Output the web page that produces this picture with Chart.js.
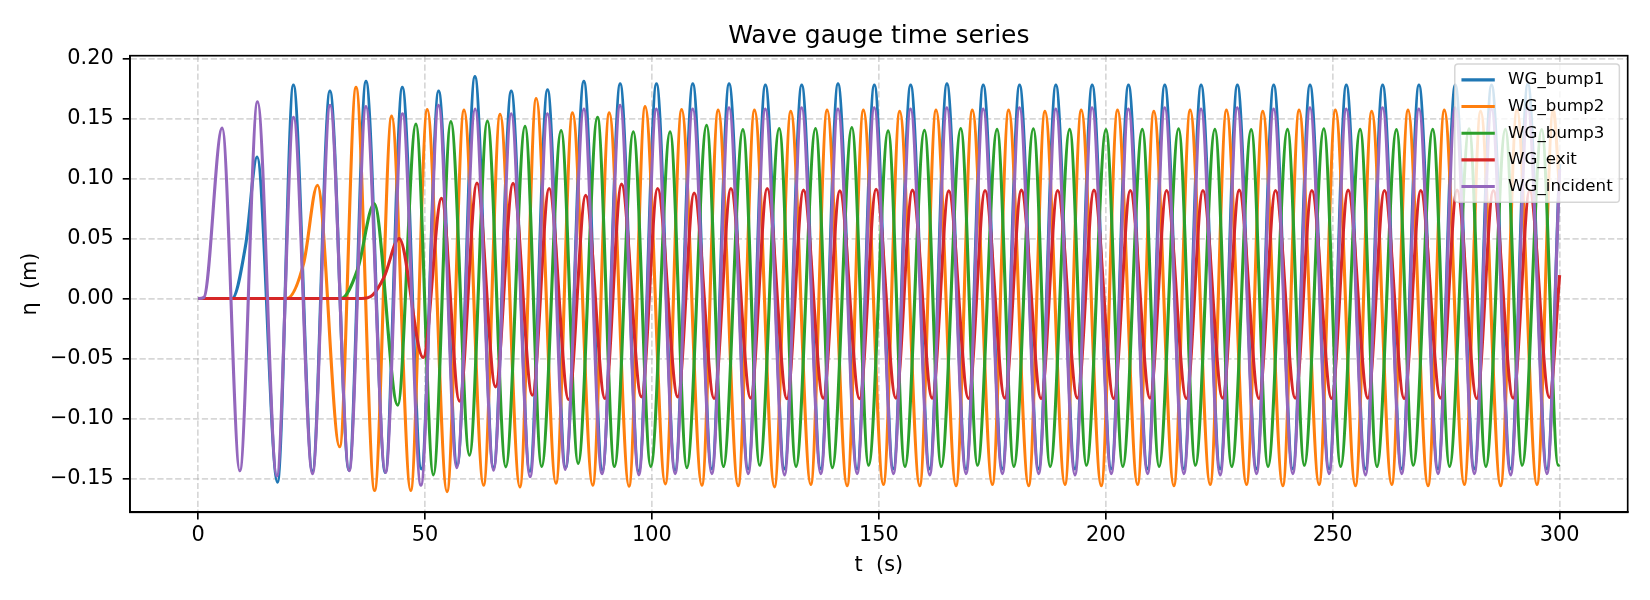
<!DOCTYPE html>
<html>
<head>
<meta charset="utf-8">
<script src="https://cdn.jsdelivr.net/npm/chart.js@4/dist/chart.umd.min.js"></script>
<style>
html,body{margin:0;padding:0;background:#fff;}
#wrap{width:1650px;height:600px;}
</style>
</head>
<body>
<div id="wrap"><canvas id="c" width="1650" height="600"></canvas></div>
<script>
// ---------------- data ----------------
const chartTitle = 'Wave gauge time series';
const xLabel = 't  (s)';
const yLabel = '\u03b7  (m)';
const seriesNames = ['WG_bump1', 'WG_bump2', 'WG_bump3', 'WG_exit', 'WG_incident'];
const seriesColors = ['#1f77b4', '#ff7f0e', '#2ca02c', '#d62728', '#9467bd'];
const xTickValues = [0, 50, 100, 150, 200, 250, 300];
const yTickValues = [-0.15, -0.10, -0.05, 0.00, 0.05, 0.10, 0.15, 0.20];

// [t (s), eta (m)] : start, turning points (crests / troughs), end
const WG_bump1 = [
[0,0],[7.5,0],[10.5,0.045],[13.0,0.118],[17.5,-0.153],[21.0,0.178],[25.2,-0.144],[29.05,0.173],[33.25,-0.143],[37.0,0.181],
[41.25,-0.145],[45.0,0.176],[49.2,-0.142],[53.0,0.173],[57.1,-0.139],[61.0,0.185],[65.1,-0.141],[69.0,0.173],[73.1,-0.144],[77.0,0.174],
[81.0,-0.141],[85.0,0.181],[89.1,-0.143],[93.0,0.179],[97.1,-0.144],[101.0,0.179],[105.1,-0.143],[109.0,0.179],[113.2,-0.142],[117.0,0.179],
[121.2,-0.142],[125.0,0.178],[129.2,-0.142],[133.0,0.178],[137.2,-0.142],[141.0,0.179],[145.2,-0.142],[149.0,0.178],[153.2,-0.142],[157.0,0.178],
[161.2,-0.142],[165.0,0.179],[169.2,-0.142],[173.0,0.178],[177.2,-0.142],[181.0,0.178],[185.2,-0.142],[189.0,0.178],[193.2,-0.142],[197.0,0.178],
[201.2,-0.142],[205.0,0.178],[209.2,-0.142],[213.0,0.178],[217.2,-0.142],[221.0,0.178],[225.2,-0.142],[229.0,0.178],[233.2,-0.142],[237.0,0.178],
[241.2,-0.142],[245.0,0.178],[249.2,-0.142],[253.0,0.178],[257.2,-0.142],[261.0,0.178],[265.2,-0.142],[269.0,0.178],[273.2,-0.142],[277.0,0.178],
[281.2,-0.142],[285.0,0.178],[289.2,-0.142],[293.0,0.179],[297.2,-0.142],[300.0,0.112]
];
const WG_bump2 = [
[0,0],[19.5,0],[23.3,0.03],[26.3,0.0944],[31.2,-0.1236],[34.8,0.176],[38.9,-0.160],[42.65,0.152],[46.85,-0.160],[50.5,0.1575],
[54.85,-0.161],[58.6,0.157],[62.9,-0.1556],[66.55,0.1536],[70.9,-0.157],[74.5,0.1667],[78.85,-0.154],[82.5,0.1547],[86.95,-0.1556],[90.6,0.1547],
[94.95,-0.1565],[98.5,0.160],[102.95,-0.1545],[106.55,0.1575],[111.0,-0.1556],[114.6,0.157],[119.0,-0.156],[122.6,0.157],[127.0,-0.157],[130.6,0.156],
[135.0,-0.155],[138.6,0.157],[143.0,-0.156],[146.6,0.157],[151.0,-0.155],[154.6,0.156],[159.0,-0.156],[162.6,0.157],[167.0,-0.156],[170.6,0.157],
[175.0,-0.155],[178.6,0.157],[183.0,-0.156],[186.6,0.156],[191.0,-0.155],[194.6,0.157],[199.0,-0.156],[202.6,0.157],[207.0,-0.155],[210.6,0.156],
[215.0,-0.156],[218.6,0.157],[223.0,-0.155],[226.6,0.157],[231.0,-0.155],[234.6,0.156],[239.0,-0.156],[242.6,0.157],[247.0,-0.155],[250.6,0.157],
[255.0,-0.156],[258.6,0.156],[263.0,-0.155],[266.6,0.157],[271.0,-0.156],[274.6,0.157],[279.0,-0.155],[282.6,0.156],[287.0,-0.156],[290.6,0.157],
[295.0,-0.155],[298.6,0.157],[300.0,0.09]
];
const WG_bump3 = [
[0,0],[31.5,0],[35.2,0.025],[38.8,0.079],[44.0,-0.0889],[48.0,0.1455],[51.85,-0.147],[55.7,0.1475],[59.8,-0.1306],[63.75,0.148],
[67.8,-0.1403],[72.05,0.1436],[75.7,-0.140],[80.0,0.140],[83.75,-0.1375],[88.0,0.151],[91.75,-0.140],[95.9,0.139],[99.75,-0.140],[104.0,0.139],
[107.7,-0.141],[112.05,0.1444],[115.75,-0.140],[120.05,0.1408],[123.75,-0.139],[128.05,0.1417],[131.75,-0.140],[136.05,0.1417],[139.75,-0.141],[144.05,0.1425],
[147.75,-0.139],[152.05,0.1397],[155.75,-0.140],[160.05,0.1403],[163.75,-0.140],[168.05,0.1417],[171.75,-0.139],[176.05,0.141],[179.75,-0.140],[184.05,0.1415],
[187.75,-0.140],[192.05,0.141],[195.75,-0.139],[200.05,0.1408],[203.75,-0.140],[208.05,0.141],[211.75,-0.140],[216.05,0.1415],[219.75,-0.139],[224.05,0.141],
[227.75,-0.140],[232.05,0.1408],[235.75,-0.140],[240.05,0.141],[243.75,-0.139],[248.05,0.1415],[251.75,-0.140],[256.05,0.141],[259.75,-0.140],[264.05,0.1408],
[267.75,-0.139],[272.05,0.141],[275.75,-0.140],[280.05,0.1415],[283.75,-0.140],[288.05,0.141],[291.75,-0.139],[296.05,0.1408],[299.7,-0.139],[300.0,-0.1385]
];
const WG_exit = [
[0,0],[36.0,0],[38.5,0.003],[41.0,0.018],[44.3,0.050],[49.6,-0.0492],[53.65,0.0835],[57.6,-0.0855],[61.45,0.0963],[65.55,-0.0736],
[69.4,0.096],[73.65,-0.0806],[77.35,0.0917],[81.65,-0.0842],[85.4,0.086],[89.65,-0.0833],[93.3,0.0953],[97.7,-0.082],[101.25,0.0917],[105.7,-0.082],
[109.3,0.088],[113.7,-0.0833],[117.4,0.0917],[121.75,-0.083],[125.4,0.0917],[129.75,-0.0835],[133.4,0.0903],[137.75,-0.083],[141.4,0.0897],[145.75,-0.0835],
[149.4,0.0911],[153.75,-0.083],[157.4,0.0903],[161.75,-0.083],[165.4,0.0897],[169.75,-0.0833],[173.4,0.090],[177.75,-0.083],[181.4,0.0903],[185.75,-0.0833],
[189.4,0.090],[193.75,-0.083],[197.4,0.0903],[201.75,-0.0833],[205.4,0.090],[209.75,-0.083],[213.4,0.090],[217.75,-0.0833],[221.4,0.090],[225.75,-0.083],
[229.4,0.0903],[233.75,-0.0833],[237.4,0.090],[241.75,-0.083],[245.4,0.090],[249.75,-0.0833],[253.4,0.0903],[257.75,-0.083],[261.4,0.090],[265.75,-0.0833],
[269.4,0.090],[273.75,-0.083],[277.4,0.0903],[281.75,-0.0833],[285.4,0.090],[289.75,-0.083],[293.4,0.090],[297.75,-0.0825],[300.0,0.0194]
];
const WG_incident = [
[0,0],[1.3,0.001],[5.3,0.142],[9.2,-0.1436],[13.1,0.164],[17.35,-0.148],[21.05,0.151],[25.2,-0.146],[29.1,0.161],[33.3,-0.1436],
[37.0,0.160],[41.3,-0.145],[45.05,0.154],[49.1,-0.1556],[53.0,0.161],[57.0,-0.141],[61.05,0.158],[65.1,-0.143],[69.0,0.154],[73.15,-0.1486],
[77.0,0.154],[80.9,-0.1425],[85.0,0.158],[89.0,-0.146],[93.0,0.161],[97.1,-0.147],[101.0,0.158],[105.1,-0.146],[109.0,0.158],[113.2,-0.146],
[117.0,0.159],[121.2,-0.146],[125.0,0.158],[129.2,-0.147],[133.0,0.159],[137.2,-0.146],[141.0,0.158],[145.2,-0.146],[149.0,0.159],[153.2,-0.146],
[157.0,0.158],[161.2,-0.147],[165.0,0.159],[169.2,-0.146],[173.0,0.158],[177.2,-0.146],[181.0,0.159],[185.2,-0.146],[189.0,0.158],[193.2,-0.147],
[197.0,0.159],[201.2,-0.146],[205.0,0.158],[209.2,-0.146],[213.0,0.159],[217.2,-0.146],[221.0,0.158],[225.2,-0.147],[229.0,0.159],[233.2,-0.146],
[237.0,0.158],[241.2,-0.146],[245.0,0.159],[249.2,-0.146],[253.0,0.158],[257.2,-0.147],[261.0,0.159],[265.2,-0.146],[269.0,0.158],[273.2,-0.146],
[277.0,0.159],[281.2,-0.146],[285.0,0.158],[289.2,-0.147],[293.0,0.159],[297.2,-0.146],[300.0,0.108]
];
const seriesData = [WG_bump1, WG_bump2, WG_bump3, WG_exit, WG_incident];

// ---------------- styling / layout ----------------
const FONT = "'DejaVu Sans', 'Liberation Sans', sans-serif";
const PX = 150 / 72;            // points -> pixels (150 dpi figure)
const LW = 1.5 * PX;            // line width
const SPINE = 0.8 * PX;
const TICK_FS = 10 * PX;
const GRID_COLOR = 'rgba(176,176,176,0.5)';

// centre the title over the plotting area (as matplotlib does)
const titleAlignPlugin = {
  id: 'titleOverAxes',
  afterLayout(chart) {
    const t = chart.titleBlock;
    if (t) {
      t.left = chart.chartArea.left;
      t.right = chart.chartArea.right;
      t.width = t.right - t.left;
    }
  }
};

const framePlugin = {
  id: 'mplFrame',
  afterDatasetsDraw(chart) {
    const {ctx, chartArea: a} = chart;
    ctx.save();
    ctx.strokeStyle = '#000';
    ctx.lineWidth = SPINE;
    ctx.strokeRect(a.left, a.top, a.right - a.left, a.bottom - a.top);
    ctx.restore();
  }
};

const legendPlugin = {
  id: 'mplLegend',
  afterDraw(chart) {
    const {ctx, chartArea: a} = chart;
    const fs = 8 * PX;
    const pad = 0.4 * fs, handle = 2 * fs, textPad = 0.8 * fs, axPad = 0.5 * fs;
    const rowStep = 1.6 * fs;
    ctx.save();
    ctx.font = fs + 'px ' + FONT;
    const names = chart.data.datasets.map(d => d.label);
    const tw = Math.max(...names.map(n => ctx.measureText(n).width));
    const w = 2 * pad + handle + textPad + tw;
    const h = 2 * pad + rowStep * (names.length - 1) + 1.1 * fs;
    const x = a.right - axPad - w;
    const y = a.top + axPad;
    ctx.beginPath();
    if (ctx.roundRect) ctx.roundRect(x, y, w, h, 0.2 * fs); else ctx.rect(x, y, w, h);
    ctx.fillStyle = 'rgba(255,255,255,0.8)';
    ctx.fill();
    ctx.lineWidth = 1.5;
    ctx.strokeStyle = 'rgba(204,204,204,0.8)';
    ctx.stroke();
    chart.data.datasets.forEach((d, i) => {
      const cy = y + pad + 0.55 * fs + i * rowStep;
      ctx.beginPath();
      ctx.strokeStyle = d.borderColor;
      ctx.lineWidth = LW;
      ctx.moveTo(x + pad, cy);
      ctx.lineTo(x + pad + handle, cy);
      ctx.stroke();
      ctx.fillStyle = '#000';
      ctx.textBaseline = 'middle';
      ctx.textAlign = 'left';
      ctx.fillText(d.label, x + pad + handle + textPad, cy);
    });
    ctx.restore();
  }
};

const fmtY = v => (v < 0 ? '\u2212' : '') + Math.abs(v).toFixed(2);

const datasets = seriesNames.map((name, i) => ({
  label: name,
  data: seriesData[i].map(p => ({x: p[0], y: p[1]})),
  borderColor: seriesColors[i],
  backgroundColor: seriesColors[i],
  borderWidth: LW,
  pointRadius: 0,
  fill: false,
  cubicInterpolationMode: 'monotone',
  borderJoinStyle: 'round',
  order: seriesNames.length - i
}));

new Chart(document.getElementById('c'), {
  type: 'line',
  data: {datasets},
  options: {
    responsive: false,
    animation: false,
    devicePixelRatio: 1,
    events: [],
    layout: {padding: {left: 0, right: 22.3, top: 0, bottom: 0}, autoPadding: false},
    plugins: {
      legend: {display: false},
      tooltip: {enabled: false},
      title: {
        display: true, text: chartTitle, color: '#000',
        font: {family: FONT, size: 12 * PX, weight: 'normal', lineHeight: 1.2},
        padding: {top: 21.5, bottom: 4.2}
      }
    },
    scales: {
      x: {
        type: 'linear', min: -15, max: 315,
        afterFit(s) { s.height = 87.7; },
        afterBuildTicks(s) { s.ticks = xTickValues.map(v => ({value: v})); },
        ticks: {
          color: '#000', font: {family: FONT, size: TICK_FS}, padding: 3.4,
          maxRotation: 0, autoSkip: false, includeBounds: false,
          callback: v => String(v)
        },
        grid: {color: GRID_COLOR, lineWidth: SPINE, tickColor: '#000', tickWidth: SPINE, tickLength: 3.5 * PX, drawTicks: true},
        border: {display: true, color: '#000', width: SPINE, dash: [6.2, 2.7]},
        title: {display: true, text: xLabel, color: '#000', font: {family: FONT, size: TICK_FS}, padding: {top: 0, bottom: 21.7}}
      },
      y: {
        type: 'linear', min: -0.1782, max: 0.2024,
        afterFit(s) { s.width = 130; },
        afterBuildTicks(s) { s.ticks = yTickValues.map(v => ({value: v})); },
        ticks: {
          color: '#000', font: {family: FONT, size: TICK_FS}, padding: 9,
          autoSkip: false, includeBounds: false, callback: v => fmtY(v)
        },
        grid: {color: GRID_COLOR, lineWidth: SPINE, tickColor: '#000', tickWidth: SPINE, tickLength: 3.5 * PX, drawTicks: true},
        border: {display: true, color: '#000', width: SPINE, dash: [6.2, 2.7]},
        title: {display: true, text: yLabel, color: '#000', font: {family: FONT, size: TICK_FS}, padding: {top: 18.3, bottom: 0}}
      }
    }
  },
  plugins: [titleAlignPlugin, framePlugin, legendPlugin]
});
</script>
</body>
</html>
